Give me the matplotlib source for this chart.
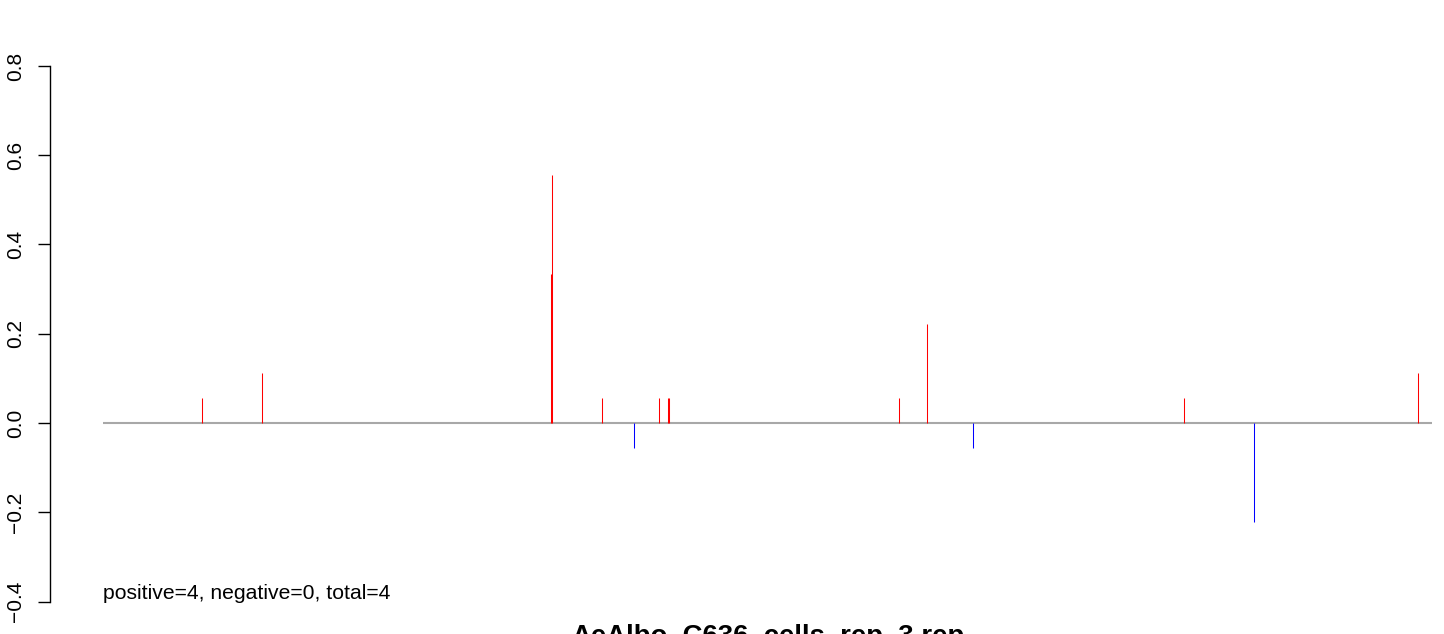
import numpy as np
import matplotlib
matplotlib.use("Agg")
import matplotlib.pyplot as plt

plt.rcParams['font.family'] = ['Liberation Sans', 'DejaVu Sans']

# ============ DATA ============
# positions along the region (arbitrary units), scores per site
positions = [99, 159, 448, 449, 499, 531, 556, 565, 566, 796, 824, 870, 1081, 1151, 1315]
scores = [0.0556, 0.1111, 0.3333, 0.5556, 0.0556, -0.0556, 0.0556, 0.0556, 0.0556,
          0.0556, 0.2222, -0.0556, 0.0556, -0.2222, 0.1111]
region_start = 0
region_end = 1329
yticks = [-0.4, -0.2, 0.0, 0.2, 0.4, 0.6, 0.8]
summary = "positive=4, negative=0, total=4"
title = "AeAlbo_C636_cells_rep_3.rep"

# ============ PLOT ============
W, H = 1444, 634
fig = plt.figure(figsize=(W / 100, H / 100), dpi=100)
# plot region runs past the right edge, like the cropped original
ax = fig.add_axes([50 / W, 0, 1435 / W, 1])

ax.hlines(0, region_start, region_end, color="#a8a8a8", lw=1.5, zorder=1)

pos = np.array(positions)
val = np.array(scores)
cols = np.where(val >= 0, "#ff0000", "#0000ff")
ax.vlines(pos, 0, val, colors=cols, lw=0.75, zorder=2)

ax.set_xlim(region_start - 53, region_end + 53)
ax.set_ylim(-(H - 423) / 446.25, 423 / 446.25)

for s in ["top", "right", "bottom"]:
    ax.spines[s].set_visible(False)
ax.spines["left"].set_bounds(-0.4, 0.8)
ax.spines["left"].set_linewidth(1.0)
ax.set_xticks([])
ax.set_yticks(yticks)
ax.set_yticklabels([f"{t:.1f}".replace("-", "\u2212") for t in yticks],
                   rotation=90, va="center", fontsize=15)
ax.tick_params(axis="y", length=8.6, width=1.0, pad=9.5)

ax.text(region_start, -0.394, summary, ha="left", va="baseline", fontsize=15.2)

# title sits at the bottom edge, partly cut off as in the original
fig.text((50 + 1435 / 2) / W, (H - 644) / H, title, ha="center", va="baseline",
         fontsize=19.8, fontweight="bold")

fig.savefig("out.png", dpi=100)
